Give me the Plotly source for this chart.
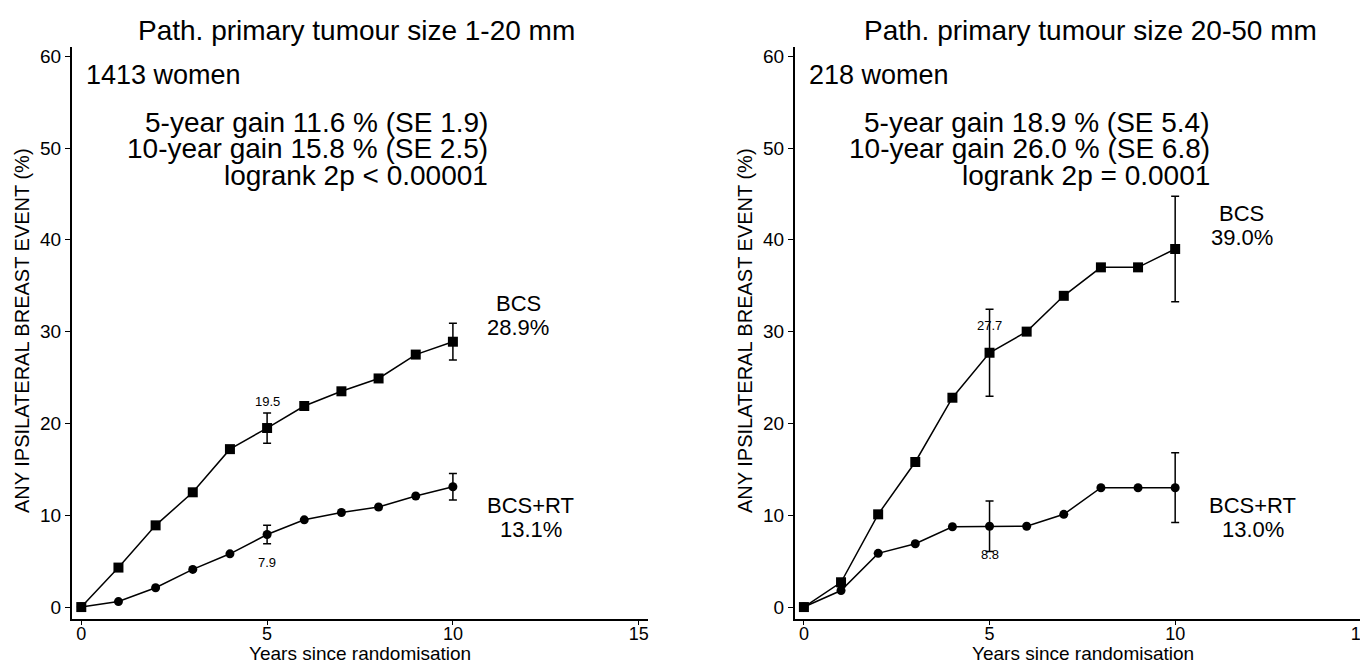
import plotly.graph_objects as go

# Page body has an 8px margin, so the figure is sized to fit the window
W, H = 1360, 656
OFF = 8

years = [0, 1, 2, 3, 4, 5, 6, 7, 8, 9, 10]

# Left panel: tumour size 1-20 mm
left_bcs = [0, 4.3, 8.9, 12.5, 17.2, 19.5, 21.9, 23.5, 24.9, 27.5, 28.9]
left_rt = [0, 0.6, 2.1, 4.1, 5.8, 7.9, 9.5, 10.3, 10.9, 12.1, 13.1]
# Right panel: tumour size 20-50 mm
right_bcs = [0, 2.7, 10.1, 15.8, 22.8, 27.7, 30.0, 33.9, 37.0, 37.0, 39.0]
right_rt = [0, 1.8, 5.85, 6.9, 8.75, 8.8, 8.8, 10.1, 13.0, 13.0, 13.0]

ci_years = [5, 10]
left_bcs_ci = [19.5, 28.9]
left_bcs_se = [1.65, 2.0]
left_rt_ci = [7.9, 13.1]
left_rt_se = [1.0, 1.45]
right_bcs_ci = [27.7, 39.0]
right_bcs_se = [4.75, 5.75]
right_rt_ci = [8.8, 13.0]
right_rt_se = [2.75, 3.8]

titles = ["Path. primary tumour size 1-20 mm", "Path. primary tumour size 20-50 mm"]
women = ["1413 women", "218 women"]
gain_lines = [
    ["5-year gain 11.6 % (SE 1.9)", "10-year gain 15.8 % (SE 2.5)", "logrank 2p < 0.00001"],
    ["5-year gain 18.9 % (SE 5.4)", "10-year gain 26.0 % (SE 6.8)", "logrank 2p = 0.0001"],
]
bcs_end = ["28.9%", "39.0%"]
rt_end = ["13.1%", "13.0%"]
five_labels_bcs = ["19.5", "27.7"]
five_labels_rt = ["7.9", "8.8"]

x_ticks = [0, 5, 10, 15]
y_ticks = [0, 10, 20, 30, 40, 50, 60]

FONT = "Liberation Sans, Arial, Helvetica, sans-serif"


def px(x):
    return (x - OFF) / W


def py(y):
    return 1 - (y - OFF) / H


fig = go.Figure()

panels = [
    (left_bcs, left_rt, left_bcs_ci, left_bcs_se, left_rt_ci, left_rt_se, "x", "y"),
    (right_bcs, right_rt, right_bcs_ci, right_bcs_se, right_rt_ci, right_rt_se, "x2", "y2"),
]

for (bcs, rt, bci, bse, rci, rse, xa, ya) in panels:
    fig.add_trace(go.Scatter(x=years, y=bcs, mode="lines+markers", xaxis=xa, yaxis=ya,
                             line=dict(color="black", width=1.5),
                             marker=dict(symbol="square", size=10, color="black"),
                             showlegend=False, hoverinfo="skip"))
    fig.add_trace(go.Scatter(x=years, y=rt, mode="lines+markers", xaxis=xa, yaxis=ya,
                             line=dict(color="black", width=1.5),
                             marker=dict(symbol="circle", size=9, color="black"),
                             showlegend=False, hoverinfo="skip"))
    fig.add_trace(go.Scatter(x=ci_years, y=bci, mode="markers", xaxis=xa, yaxis=ya,
                             marker=dict(size=1, color="rgba(0,0,0,0)"),
                             error_y=dict(type="data", array=bse, symmetric=True,
                                          color="black", thickness=1.5, width=4),
                             showlegend=False, hoverinfo="skip"))
    fig.add_trace(go.Scatter(x=ci_years, y=rci, mode="markers", xaxis=xa, yaxis=ya,
                             marker=dict(size=1, color="rgba(0,0,0,0)"),
                             error_y=dict(type="data", array=rse, symmetric=True,
                                          color="black", thickness=1.5, width=4),
                             showlegend=False, hoverinfo="skip"))

axis_common = dict(showline=True, linecolor="black", linewidth=2, showgrid=False,
                   zeroline=False, ticks="outside", tickcolor="black",
                   tickwidth=1, automargin=False, ticklabeloverflow="allow")
xaxis_style = dict(ticklen=4, ticklabelstandoff=-7,
                   tickfont=dict(family=FONT, size=18, color="black"), **axis_common)
yaxis_style = dict(ticklen=5, tickfont=dict(family=FONT, size=19, color="black"), **axis_common)

ydom = [py(619), py(47)]
fig.update_layout(
    width=W, height=H,
    margin=dict(l=0, r=0, t=0, b=0),
    paper_bgcolor="white", plot_bgcolor="white",
    xaxis=dict(domain=[px(72), px(648)], range=[-0.25, 15.25], tickvals=x_ticks,
               anchor="y", **xaxis_style),
    yaxis=dict(domain=ydom, range=[-1.3, 61], tickvals=y_ticks,
               anchor="x", **yaxis_style),
    xaxis2=dict(domain=[px(795), px(1366)], range=[-0.24, 15.14], tickvals=x_ticks,
                anchor="y2", **xaxis_style),
    yaxis2=dict(domain=ydom, range=[-1.3, 61], tickvals=y_ticks,
                anchor="x2", **yaxis_style),
)

ann = []
title_cx = [356, 1090]
xtitle_cx = [360, 1083]
ytitle_cx = [22, 745]
for i, (xr, yr) in enumerate([("x", "y"), ("x2", "y2")]):
    ann.append(dict(text=titles[i], xref="paper", yref="paper", x=px(title_cx[i]), y=py(31),
                    showarrow=False, xanchor="center", yanchor="middle",
                    font=dict(family=FONT, size=28, color="black")))
    ann.append(dict(text="Years since randomisation", xref="paper", yref="paper",
                    x=px(xtitle_cx[i]), y=py(653), showarrow=False,
                    xanchor="center", yanchor="middle", borderpad=0,
                    font=dict(family=FONT, size=19, color="black")))
    ann.append(dict(text="ANY IPSILATERAL BREAST EVENT (%)", xref="paper", yref="paper",
                    x=px(ytitle_cx[i]), y=py(331), showarrow=False, textangle=-90,
                    xanchor="center", yanchor="middle",
                    font=dict(family=FONT, size=20, color="black")))
    ann.append(dict(text=women[i], xref=xr, yref=yr, x=0.08, y=57.95, showarrow=False,
                    xanchor="left", yanchor="middle",
                    font=dict(family=FONT, size=27, color="black")))
    for j, line in enumerate(gain_lines[i]):
        ann.append(dict(text=line, xref=xr, yref=yr, x=10.96,
                        y=[52.8, 50.0, 47.05][j], showarrow=False, xanchor="right",
                        yanchor="middle", borderpad=0,
                        font=dict(family=FONT, size=28, color="black")))

# Series end labels (one annotation per line)
end_specs = [
    ("x", "y", 11.76, [33.1, 30.4], ["BCS", bcs_end[0]]),
    ("x", "y", 12.09, [11.1, 8.5], ["BCS+RT", rt_end[0]]),
    ("x2", "y2", 11.79, [42.9, 40.3], ["BCS", bcs_end[1]]),
    ("x2", "y2", 12.09, [11.1, 8.5], ["BCS+RT", rt_end[1]]),
]
for xr, yr, xc, ys, texts in end_specs:
    for yv, t in zip(ys, texts):
        ann.append(dict(text=t, xref=xr, yref=yr, x=xc, y=yv, showarrow=False,
                        xanchor="center", yanchor="middle", borderpad=0,
                        font=dict(family=FONT, size=22, color="black")))

# 5-year value labels
ann += [
    dict(text=five_labels_bcs[0], xref="x", yref="y", x=5, y=22.4, showarrow=False,
         font=dict(family=FONT, size=13, color="black")),
    dict(text=five_labels_rt[0], xref="x", yref="y", x=5, y=4.9, showarrow=False,
         font=dict(family=FONT, size=13, color="black")),
    dict(text=five_labels_bcs[1], xref="x2", yref="y2", x=5, y=30.7, showarrow=False,
         font=dict(family=FONT, size=13, color="black")),
    dict(text=five_labels_rt[1], xref="x2", yref="y2", x=5, y=5.7, showarrow=False,
         font=dict(family=FONT, size=13, color="black")),
]

fig.update_layout(annotations=ann)
fig.write_html("out.html")
